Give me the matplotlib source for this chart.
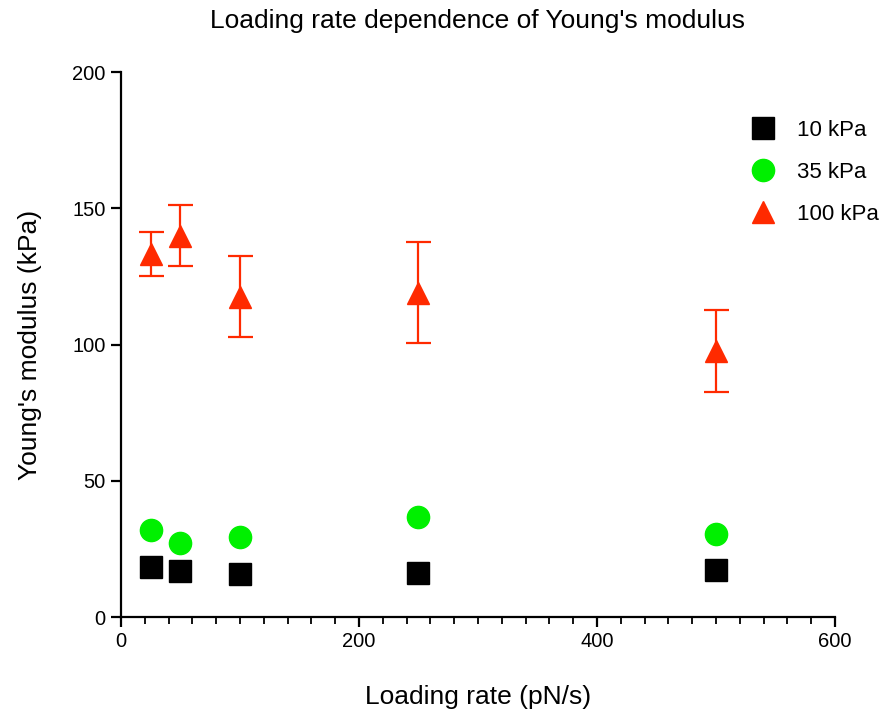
import matplotlib
matplotlib.use("Agg")
import matplotlib.pyplot as plt
from matplotlib.ticker import MultipleLocator
from matplotlib.lines import Line2D

plt.rcParams['font.family'] = ['Liberation Sans', 'DejaVu Sans']

loading_rate = [25, 50, 100, 250, 500]
e_10kpa = [18.3, 16.9, 15.8, 16.1, 17.2]
e_35kpa = [31.9, 27.2, 29.4, 36.7, 30.5]
e_100kpa = [133.3, 140.0, 117.6, 119.0, 97.6]
e_100kpa_err = [8.0, 11.3, 15.0, 18.5, 15.0]

series_labels = ['10 kPa', '35 kPa', '100 kPa']
black = 'black'
green = '#00F000'
red = '#FF2A00'

fig = plt.figure(figsize=(8.81, 7.13), dpi=100)
ax = fig.add_axes([0.1373, 0.1346, 0.8104, 0.7644])

ax.plot(loading_rate, e_10kpa, linestyle='none', marker='s', ms=15.5,
        color=black, zorder=3)
ax.plot(loading_rate, e_35kpa, linestyle='none', marker='o', ms=16,
        color=green, zorder=3)
ax.errorbar(loading_rate, e_100kpa, yerr=e_100kpa_err, linestyle='none',
            marker='^', ms=16, color=red, ecolor=red,
            elinewidth=1.6, capsize=9, capthick=1.6, zorder=3)

ax.set_xlim(0, 600)
ax.set_ylim(0, 200)
ax.xaxis.set_major_locator(MultipleLocator(200))
ax.xaxis.set_minor_locator(MultipleLocator(20))
ax.yaxis.set_major_locator(MultipleLocator(50))

for side in ('top', 'right'):
    ax.spines[side].set_visible(False)
for side in ('left', 'bottom'):
    ax.spines[side].set_linewidth(1.6)
ax.tick_params(which='major', length=7, width=1.6, labelsize=14.5, pad=4)
ax.tick_params(which='minor', length=5, width=1.3)

ax.set_xlabel('Loading rate (pN/s)', fontsize=19, labelpad=24)
ax.set_ylabel("Young's modulus (kPa)", fontsize=19, labelpad=22)
ax.set_title("Loading rate dependence of Young's modulus", fontsize=19, pad=32)

leg_handles = [
    Line2D([], [], linestyle='none', marker='s', ms=15.5, color=black),
    Line2D([], [], linestyle='none', marker='o', ms=16, color=green),
    Line2D([], [], linestyle='none', marker='^', ms=16, color=red),
]
fig.legend(leg_handles, series_labels, loc='upper left',
           bbox_to_anchor=(0.828, 0.86), frameon=False, fontsize=16,
           handletextpad=0.95, labelspacing=0.95, handlelength=1.2)

fig.savefig('out.png', dpi=100)
